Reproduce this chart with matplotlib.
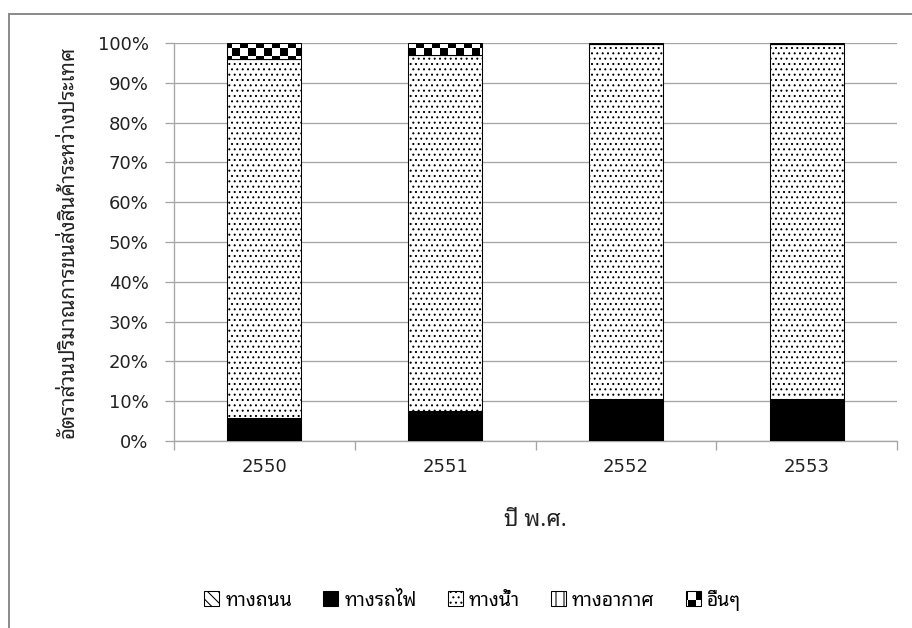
import warnings
import numpy as np
import matplotlib
matplotlib.use("Agg")
import matplotlib.pyplot as plt
import matplotlib.hatch as mhatch
from matplotlib.path import Path
from matplotlib.patches import Patch
from matplotlib.lines import Line2D

warnings.filterwarnings("ignore")

# ---- data (percent share of international freight volume) ----
years = ["2550", "2551", "2552", "2553"]
road = [0.0, 0.0, 0.0, 0.0]
rail = [5.7, 7.5, 10.5, 10.5]
water = [90.2, 89.5, 89.2, 89.2]
air = [0.0, 0.0, 0.1, 0.1]
others = [4.1, 3.0, 0.2, 0.2]

series_names = ["ทางถนน", "ทางรถไฟ", "ทางน้ำ", "ทางอากาศ", "อื่นๆ"]
y_ticks = [0, 10, 20, 30, 40, 50, 60, 70, 80, 90, 100]
x_label = "ปี พ.ศ."
y_label = "อัตราส่วนปริมาณการขนส่งสินค้าระหว่างประเทศ"

DPI = 96
HATCH_LW = 0.8  # points


# ---- checkerboard hatch ('c') ----
class CheckerHatch(mhatch.HatchPatternBase):
    def __init__(self, hatch, density):
        cells = int(hatch.count("c") * density)
        cells -= cells % 2
        self.cells = cells
        self.num_vertices = (cells * cells // 2) * 5

    def set_vertices_and_codes(self, vertices, codes):
        n = self.cells
        s = 1.0 / n
        # shrink each square by half the hatch stroke so the outline keeps cells even
        d = (HATCH_LW / 72.0) / 2.0
        k = 0
        for i in range(n):
            for j in range(n):
                if (i + j) % 2 == 0:
                    x0, y0, x1, y1 = i * s + d, j * s + d, (i + 1) * s - d, (j + 1) * s - d
                    vertices[k:k + 5] = [(x0, y0), (x1, y0), (x1, y1), (x0, y1), (x0, y0)]
                    codes[k:k + 5] = [Path.MOVETO, Path.LINETO, Path.LINETO,
                                      Path.LINETO, Path.CLOSEPOLY]
                    k += 5


mhatch._hatch_types.append(CheckerHatch)

thai = ["Noto Sans Thai Looped", "DejaVu Sans"]
plt.rcParams["font.family"] = ["DejaVu Sans", "Noto Sans Thai Looped"]
plt.rcParams["hatch.color"] = "black"
plt.rcParams["hatch.linewidth"] = HATCH_LW

fig = plt.figure(figsize=(912 / DPI, 628 / DPI), dpi=DPI)
ax = fig.add_axes([174 / 912, 1 - 441 / 628, (897 - 174) / 912, (441 - 43) / 628])

styles = [
    dict(facecolor="white", hatch="\\\\\\"),
    dict(facecolor="black", hatch=None),
    dict(facecolor="white", hatch="..."),
    dict(facecolor="white", hatch="||"),
    dict(facecolor="white", hatch="cc"),
]
data = [road, rail, water, air, others]

x = np.arange(len(years))
bottom = np.zeros(len(years))
for vals, st in zip(data, styles):
    vals = np.asarray(vals, dtype=float)
    ax.bar(x, vals, 0.41, bottom=bottom, color=st["facecolor"], hatch=st["hatch"],
           edgecolor="black", linewidth=0.8, zorder=3)
    bottom += vals

grid_c = "#a6a6a6"
ax.set_xlim(-0.5, len(years) - 0.5)
ax.set_ylim(0, 100)
ax.set_yticks(y_ticks)
ax.set_yticklabels([f"{v}%" for v in y_ticks])
ax.yaxis.grid(True, color=grid_c, linewidth=1.0, zorder=0)
ax.set_axisbelow(True)

ax.set_xticks(x)
ax.set_xticklabels(years)
ax.set_xticks(np.arange(len(years) + 1) - 0.5, minor=True)
ax.tick_params(axis="x", which="major", length=0, pad=13, labelsize=13.5, labelcolor="#222222")
ax.tick_params(axis="x", which="minor", length=7, width=1.0, color=grid_c)
ax.tick_params(axis="y", which="major", length=7, width=1.0, color=grid_c, pad=12,
               labelsize=13.5, labelcolor="#222222")

for side in ("top", "right"):
    ax.spines[side].set_visible(False)
for side in ("left", "bottom"):
    ax.spines[side].set_color(grid_c)
    ax.spines[side].set_linewidth(1.0)

ax.set_xlabel(x_label, fontsize=17, color="#222222", labelpad=24, family=thai)
ax.set_ylabel(y_label, fontsize=15.5, color="#222222", labelpad=14, family=thai)

handles = [Patch(facecolor=st["facecolor"], hatch=st["hatch"], edgecolor="black",
                 linewidth=0.8) for st in styles]
fig.legend(handles, series_names, loc="center", bbox_to_anchor=(0.518, 1 - 600 / 628),
           ncol=5, frameon=False, handlelength=0.8, handleheight=0.8, handletextpad=0.3,
           columnspacing=1.6, prop=dict(family=thai, size=14.5))

# chart border (top and left edges)
border_c = "#8c8c8c"
fig.add_artist(Line2D([9 / 912, 9 / 912], [0, 1 - 13.5 / 628], transform=fig.transFigure,
                      color=border_c, linewidth=1.5))
fig.add_artist(Line2D([9 / 912, 1], [1 - 13.5 / 628, 1 - 13.5 / 628], transform=fig.transFigure,
                      color=border_c, linewidth=1.5))

fig.savefig("out.png", dpi=DPI, facecolor="white")
